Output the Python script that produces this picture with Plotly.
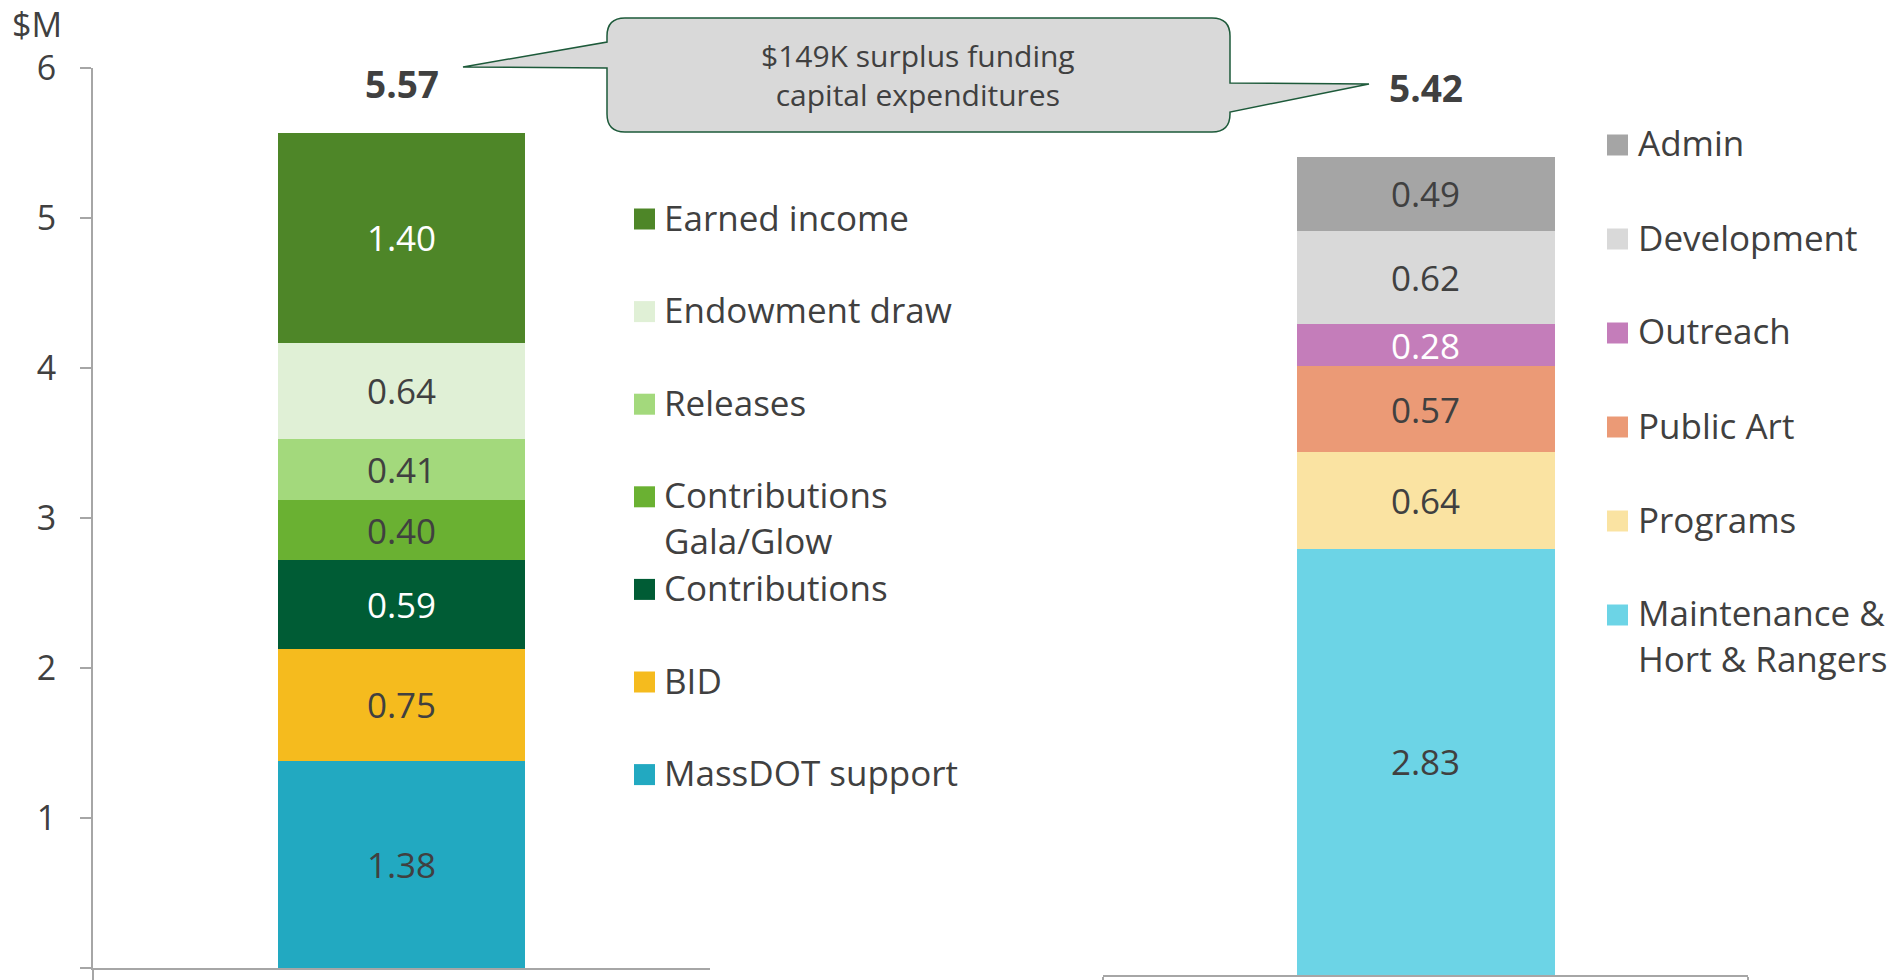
import plotly.graph_objects as go

# ---------------- data ----------------
src_names = ["MassDOT support", "BID", "Contributions", "Contributions Gala/Glow",
             "Releases", "Endowment draw", "Earned income"]
src_values = [1.38, 0.75, 0.59, 0.40, 0.41, 0.64, 1.40]
src_colors = ["#22a9c1", "#f5bb1e", "#005c35", "#6ab132", "#a3d97c", "#e0f0d6", "#4e8628"]
src_text_colors = ["#404040", "#404040", "#ffffff", "#404040", "#404040", "#404040", "#ffffff"]
src_total = "5.57"

use_names = ["Maintenance & Hort & Rangers", "Programs", "Public Art", "Outreach",
             "Development", "Admin"]
use_values = [2.83, 0.64, 0.57, 0.28, 0.62, 0.49]
use_colors = ["#6cd4e6", "#fae3a2", "#eb9a76", "#c47dba", "#d9d9d9", "#a5a5a5"]
use_text_colors = ["#404040", "#404040", "#404040", "#ffffff", "#404040", "#404040"]
use_total = "5.42"

# legend display order (top to bottom) and line breaks
src_legend = [("Earned income",), ("Endowment draw",), ("Releases",),
              ("Contributions", "Gala/Glow"), ("Contributions",), ("BID",), ("MassDOT support",)]
src_legend_colors = ["#4e8628", "#e0f0d6", "#a3d97c", "#6ab132", "#005c35", "#f5bb1e", "#22a9c1"]
use_legend = [("Admin",), ("Development",), ("Outreach",), ("Public Art",), ("Programs",),
              ("Maintenance &", "Hort & Rangers")]
use_legend_colors = ["#a5a5a5", "#d9d9d9", "#c47dba", "#eb9a76", "#fae3a2", "#6cd4e6"]

callout_lines = ["$149K surplus funding", "capital expenditures"]
y_ticks = [0, 1, 2, 3, 4, 5, 6]

# ---------------- layout helpers ----------------
W, H = 1901, 980
FONT = "Open Sans"
TXT = "#404040"
AX = "#a6a6a6"


def px(x):
    return x / W


def py(y):
    return 1 - y / H


fig = go.Figure()

for n, v, c, tc in zip(src_names, src_values, src_colors, src_text_colors):
    fig.add_trace(go.Bar(
        x=["Sources"], y=[v], name=n, marker=dict(color=c, line=dict(width=0)),
        text=[f"{v:.2f}"], textposition="inside", insidetextanchor="middle",
        textangle=0, constraintext="none",
        textfont=dict(family=FONT, size=35, color=tc),
        xaxis="x", yaxis="y", showlegend=False, hoverinfo="skip"))

for n, v, c, tc in zip(use_names, use_values, use_colors, use_text_colors):
    fig.add_trace(go.Bar(
        x=["Uses"], y=[v], name=n, marker=dict(color=c, line=dict(width=0)),
        text=[f"{v:.2f}"], textposition="inside", insidetextanchor="middle",
        textangle=0, constraintext="none",
        textfont=dict(family=FONT, size=35, color=tc),
        xaxis="x2", yaxis="y2", showlegend=False, hoverinfo="skip"))

xcommon = dict(type="category", range=[-0.5, 0.5], showline=True, linecolor=AX,
               linewidth=2, ticks="outside", tickson="boundaries", ticklen=14,
               tickcolor=AX, tickwidth=1.5, showticklabels=False, showgrid=False,
               zeroline=False, fixedrange=True, automargin=False)

annotations = []
shapes = []


def note(x, y, text, size, **kw):
    d = dict(xref="paper", yref="paper", x=px(x), y=py(y), text=text, showarrow=False,
             xanchor="center", yanchor="middle",
             font=dict(family=FONT, size=size, color=TXT))
    d.update(kw)
    annotations.append(d)


# totals
annotations.append(dict(xref="x", yref="paper", x="Sources", y=py(83),
                        text=f"<b>{src_total}</b>", showarrow=False,
                        xanchor="center", yanchor="middle",
                        font=dict(family=FONT, size=37, color=TXT)))
annotations.append(dict(xref="x2", yref="paper", x="Uses", y=py(88),
                        text=f"<b>{use_total}</b>", showarrow=False,
                        xanchor="center", yanchor="middle",
                        font=dict(family=FONT, size=37, color=TXT)))

# $M unit label
note(37, 24, "$M", 34)

LINE = 45.5  # plotly annotation line spacing at 35px (1.3em)


def add_legend(items, colors, y0, step, mx, tx):
    for i, (lines, col) in enumerate(zip(items, colors)):
        yc = y0 + i * step
        shapes.append(dict(type="rect", xref="paper", yref="paper",
                           x0=px(mx), x1=px(mx + 21), y0=py(yc - 10.5), y1=py(yc + 10.5),
                           fillcolor=col, line=dict(width=0)))
        ty = yc - 2 + (len(lines) - 1) * LINE / 2
        note(tx, ty, "<br>".join(lines), 35, xanchor="left", align="left")


add_legend(src_legend, src_legend_colors, 219, 92.6, 634, 662)
add_legend(use_legend, use_legend_colors, 145, 94, 1607, 1636)

# callout bubble
bx0, bx1, by0, by1, r = 607, 1230, 18, 132, 18
pts = [
    ("M", (bx0 + r, by0)), ("L", (bx1 - r, by0)),
    ("Q", (bx1, by0), (bx1, by0 + r)),
    ("L", (bx1, 83)), ("L", (1369, 84)), ("L", (bx1, 112)),
    ("L", (bx1, by1 - r)),
    ("Q", (bx1, by1), (bx1 - r, by1)),
    ("L", (bx0 + r, by1)),
    ("Q", (bx0, by1), (bx0, by1 - r)),
    ("L", (bx0, 68)), ("L", (463, 67)), ("L", (bx0, 42)),
    ("L", (bx0, by0 + r)),
    ("Q", (bx0, by0), (bx0 + r, by0)),
]
path = ""
for seg in pts:
    cmd = seg[0]
    coords = " ".join(f"{px(x):.6f},{py(y):.6f}" for x, y in seg[1:])
    path += f"{cmd}{coords} "
path += "Z"
shapes.append(dict(type="path", xref="paper", yref="paper", path=path,
                   fillcolor="#d9d9d9", line=dict(color="#1d5a3a", width=1.5)))

note(918, 56 + 39 / 2, "<br>".join(callout_lines), 30)

fig.update_layout(
    width=W, height=H, autosize=False,
    margin=dict(l=0, r=0, t=0, b=0, pad=0, autoexpand=False),
    paper_bgcolor="white", plot_bgcolor="white",
    barmode="stack", bargap=0.6,
    font=dict(family=FONT, color=TXT),
    xaxis=dict(domain=[px(93), px(710)], anchor="y", **xcommon),
    xaxis2=dict(domain=[px(1103), px(1748)], anchor="y2", **xcommon),
    yaxis=dict(domain=[py(968), py(68)], range=[0, 6], anchor="x",
               showline=True, linecolor=AX, linewidth=2, ticks="outside",
               ticklen=11, tickwidth=1.5, tickcolor=AX, tickvals=y_ticks,
               ticklabelstandoff=17, automargin=False,
               tickfont=dict(family=FONT, size=34, color=TXT),
               showgrid=False, zeroline=False, fixedrange=True),
    yaxis2=dict(domain=[py(975), py(71)], range=[0, 6], anchor="x2", visible=False,
                automargin=False, fixedrange=True),
    annotations=annotations,
    shapes=shapes,
    showlegend=False,
)

fig.write_html("out.html",
               config={"displayModeBar": False},
               post_script="document.body.style.margin='0px';"
                           "document.body.style.overflow='hidden';")
